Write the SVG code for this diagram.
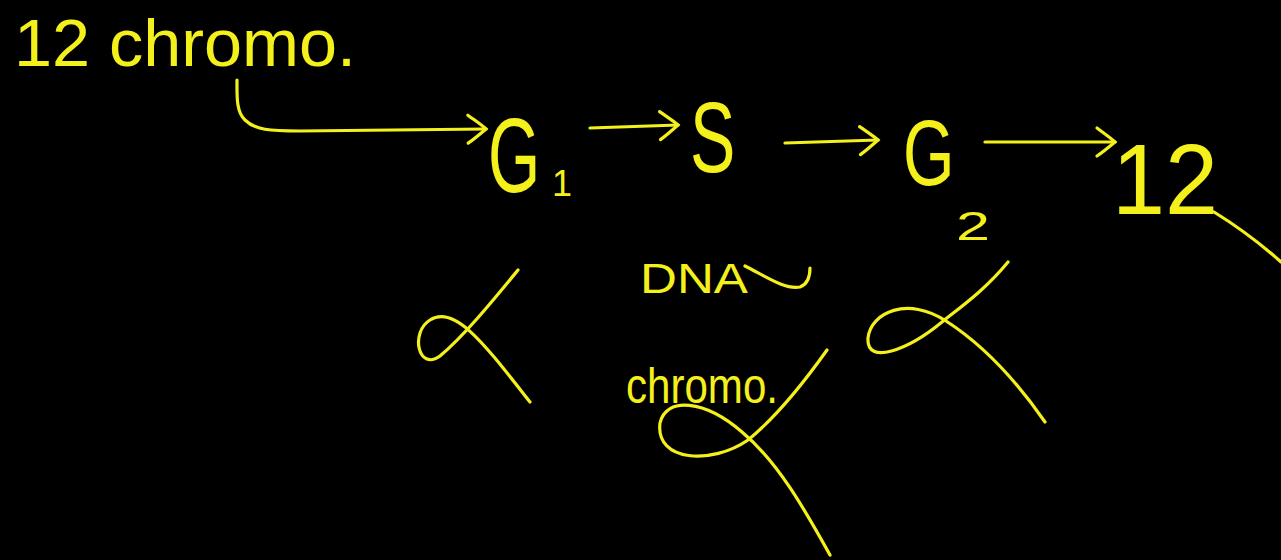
<svg xmlns="http://www.w3.org/2000/svg" width="1281" height="560" viewBox="0 0 1281 560">
<style>
.t{fill:#f4f01c;font-family:"Liberation Sans","DejaVu Sans",sans-serif;}
.s{fill:none;stroke:#f4f01c;stroke-width:3.2;stroke-linecap:round;stroke-linejoin:round;}
</style>
<defs>
<marker id="chev" markerUnits="userSpaceOnUse" markerWidth="30" markerHeight="34" refX="22" refY="17" orient="auto" viewBox="0 0 30 34">
<path d="M4,3 C12,9 18,13 22,17 C16,22 10,27 4,31" fill="none" stroke="#f4f01c" stroke-width="3.2" stroke-linecap="round"/>
</marker>
</defs>
<rect width="1281" height="560" fill="#000"/>
<g id="start"><text class="t" x="14" y="66" font-size="66" textLength="342" lengthAdjust="spacingAndGlyphs">12 chromo.</text></g>
<g id="g1"><text class="t" transform="translate(488,192) scale(0.64,1)" font-size="105">G</text><text class="t" x="552" y="196" font-size="36">1</text></g>
<g id="s"><text class="t" transform="translate(690,172) scale(0.68,1)" font-size="100">S</text></g>
<g id="g2"><text class="t" transform="translate(903,185) scale(0.72,1)" font-size="92">G</text><text class="t" x="956" y="240" font-size="40" textLength="34" lengthAdjust="spacingAndGlyphs">2</text></g>
<g id="end"><text class="t" x="1112" y="214" font-size="100" textLength="106" lengthAdjust="spacingAndGlyphs">12</text><path class="s" d="M1214,212 C1240,228 1262,245 1281,262"/></g>
<g id="dna"><text class="t" x="640" y="293" font-size="42" textLength="108" lengthAdjust="spacingAndGlyphs">DNA</text><path class="s" d="M745,266 C765,276 785,290 800,287 C808,284 810,276 810,268"/></g>
<g id="chromo"><text class="t" x="626" y="403" font-size="50" textLength="152" lengthAdjust="spacingAndGlyphs">chromo.</text></g>
<g id="marks">
<path class="s" d="M518,270 C495,298 465,335 440,356 C418,372 410,332 430,320 C455,304 485,345 530,402"/>
<path class="s" d="M827,350 C800,388 775,418 748,440 C712,465 655,462 660,423 C666,396 705,400 742,432 C778,462 805,510 830,555"/>
<path class="s" d="M1008,262 C985,290 962,306 942,322 C908,350 866,366 868,338 C871,312 908,296 946,321 C985,346 1020,386 1045,422"/>
</g>
<g id="connectors">
<path class="s" d="M237,80 C237,95 236,112 245,120 C255,130 270,131 300,131 L486,129" marker-end="url(#chev)"/>
<path class="s" d="M590,128 L678,125" marker-end="url(#chev)"/>
<path class="s" d="M785,143 L878,140" marker-end="url(#chev)"/>
<path class="s" d="M985,142 L1115,142" marker-end="url(#chev)"/>
</g>
</svg>
